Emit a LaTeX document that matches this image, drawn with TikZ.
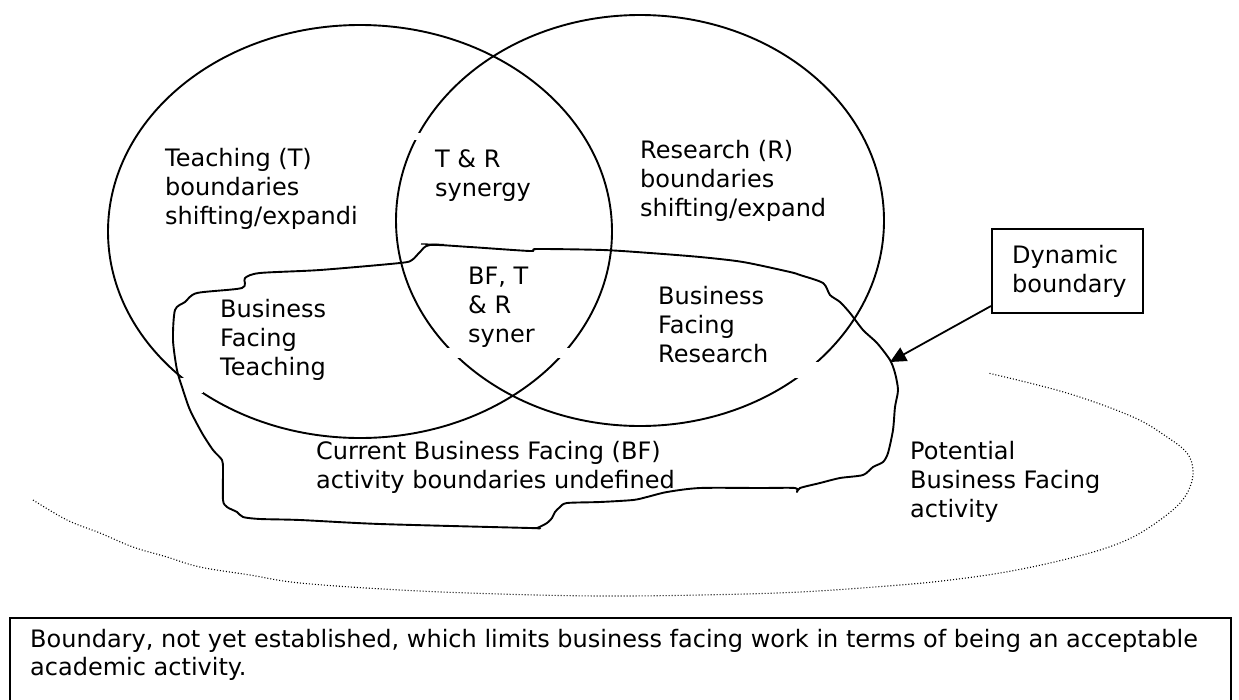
\documentclass[tikz,border=0pt]{standalone}
\usepackage{fontspec}
\setmainfont{DejaVu Sans}
\usetikzlibrary{arrows.meta}
\begin{document}
\begin{tikzpicture}[x=1pt,y=-1pt,
  txt/.style={anchor=base west, inner sep=0pt, align=left, font=\fontsize{24}{29}\selectfont},
  ln/.style={line width=1.9pt},
  gapfill/.style={fill=white, draw=none},
  dots/.style={line width=1.1pt, dash pattern=on 1pt off 2pt},
  boxline/.style={draw, line width=1.6pt}]
\useasboundingbox (0,0) rectangle (1239,699);

% the two overlapping circles
\draw[ln] (360,231.5) ellipse [x radius=252, y radius=206.5];
\draw[ln] (640,220.5) ellipse [x radius=244, y radius=205.5];

% gaps left by white text boxes
\fill[gapfill] (440,348) rectangle (576,358);
\fill[gapfill] (640,362) rectangle (823,378);
\fill[gapfill] (177,378) rectangle (203,393);
\fill[gapfill] (408,132.5) rectangle (426,139.5);

% potential business facing boundary (dotted)
\draw[dots] plot[smooth, tension=0.6] coordinates {(33,500) (67,520) (100,533) (133,547) (167,557) (200,567) (250,575) (300,583) (400,590) (500,594) (600,596) (700,595) (800,592) (900,585) (950,580) (1000,573) (1050,563) (1100,550) (1133,537) (1160,520) (1180,503) (1190,487) (1193,470) (1187,453) (1167,437) (1133,417) (1067,393) (988,373)};

% current business facing activity (dynamic boundary)
\draw[ln, line join=round] plot[smooth cycle, tension=0.45] coordinates {(430,245) (470,247) (530,251) (537,249) (603,250) (650,253) (700,257) (743,262) (790,272) (800,275) (823,283) (830,295) (840,302) (850,313) (863,330) (877,343) (890,360) (895,373) (898,390) (895,407) (893,430) (888,453) (883,462) (873,467) (863,475) (840,478) (820,483) (800,488) (797,492) (795,488) (760,488) (700,488) (667,492) (647,497) (633,500) (600,502) (567,503) (560,507) (555,512) (552,518) (547,523) (537,528) (530,528) (380,524) (300,520) (260,519) (243,517) (237,512) (227,507) (223,500) (223,470) (222,460) (213,450) (202,433) (190,410) (183,390) (177,370) (173,340) (175,310) (185,302) (197,293) (242,288) (245,278) (260,273) (320,270) (400,263) (412,260) (420,252)};
\draw[line width=1.3pt] (421,244) -- (444,244.5);

% labels (positioned at the baseline of their last line)
\node[txt] (tT) at (165,224) {Teaching (T)\\boundaries\\shifting/expandi};
\node[txt] (tTR) at (435,196) {T \& R\\synergy};
\node[txt] (tR) at (640,216) {Research (R)\\boundaries\\shifting/expand};
\node[txt] (tBFTR) at (468,342) {BF, T\\\& R\\syner};
\node[txt] (tBFT) at (220,375) {Business\\Facing\\Teaching};
\node[txt] (tBFR) at (658,362) {Business\\Facing\\Research};
\node[txt] (tCur) at (316,488) {Current Business Facing (BF)\\activity boundaries undefined};
\node[txt] (tPot) at (910,517) {Potential\\Business Facing\\activity};

% dynamic boundary callout
\node[boxline, anchor=north west, minimum width=151pt, minimum height=84pt, inner sep=0pt] (dyn) at (991,228) {};
\node[txt] (dyntxt) at (1012,292) {Dynamic\\boundary};
\coordinate (astart) at (991,306);
\coordinate (atip) at (890,362);
\draw[line width=1.8pt, -{Triangle[length=16pt,width=15pt]}] (astart) -- (atip);

% note box
\node[boxline, anchor=north west, minimum width=1221pt, minimum height=86pt, inner sep=0pt] (note) at (9,617) {};
\node[txt, font=\fontsize{24}{28}\selectfont] (notetxt) at (30,675) {Boundary, not yet established, which limits business facing work in terms of being an acceptable\\academic activity.};
\end{tikzpicture}
\end{document}
